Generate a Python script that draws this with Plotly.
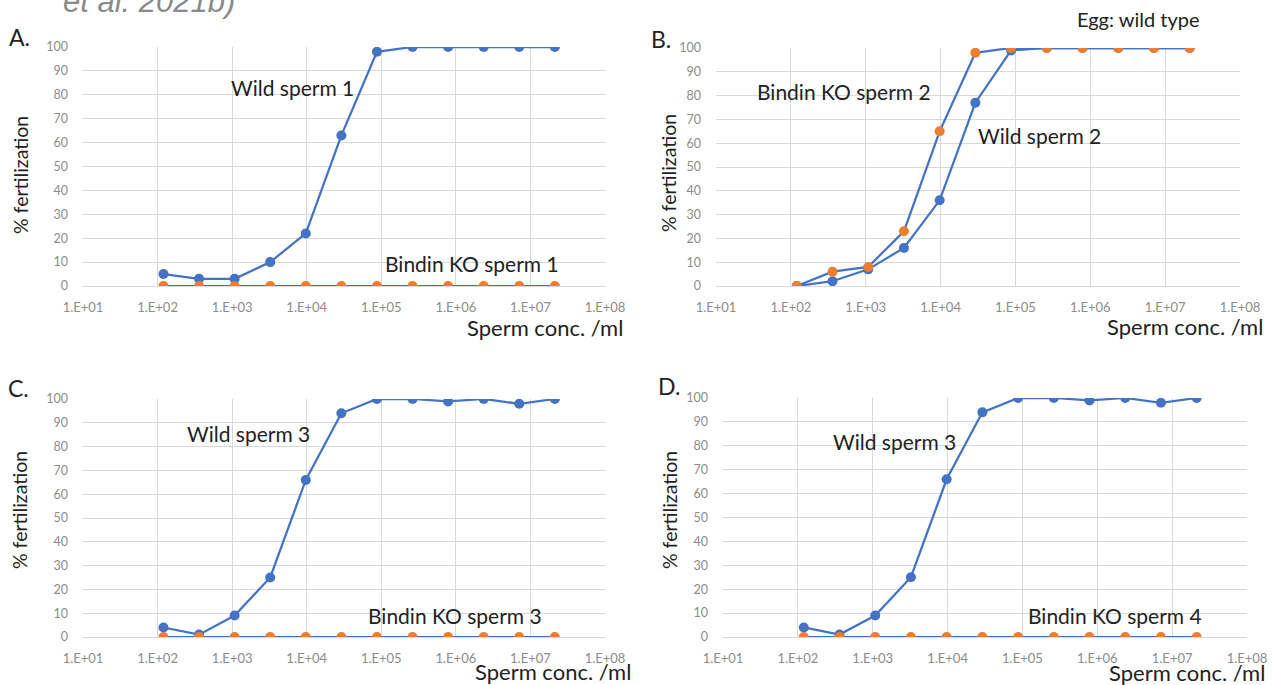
import plotly.graph_objects as go

# ---------------- data ----------------
conc = [1.2e2, 3.6e2, 1.08e3, 3.24e3, 9.72e3, 2.916e4, 8.748e4,
        2.6244e5, 7.8732e5, 2.36196e6, 7.08588e6, 2.125764e7]

wild_1 = [5, 3, 3, 10, 22, 63, 98, 100, 100, 100, 100, 100]
ko_1 = [0, 0, 0, 0, 0, 0, 0, 0, 0, 0, 0, 0]

wild_2 = [0, 2, 7, 16, 36, 77, 99, 100, 100, 100, 100, 100]
ko_2 = [0, 6, 8, 23, 65, 98, 100, 100, 100, 100, 100, 100]

wild_3 = [4, 1, 9, 25, 66, 94, 100, 100, 99, 100, 98, 100]
ko_3 = [0, 0, 0, 0, 0, 0, 0, 0, 0, 0, 0, 0]

wild_4 = [4, 1, 9, 25, 66, 94, 100, 100, 99, 100, 98, 100]
ko_4 = [0, 0, 0, 0, 0, 0, 0, 0, 0, 0, 0, 0]

x_tickvals = [1e1, 1e2, 1e3, 1e4, 1e5, 1e6, 1e7, 1e8]
x_ticktext = ["1.E+01", "1.E+02", "1.E+03", "1.E+04", "1.E+05", "1.E+06", "1.E+07", "1.E+08"]
y_tickvals = [0, 10, 20, 30, 40, 50, 60, 70, 80, 90, 100]

# ---------------- style ----------------
W, H = 1272, 685
BLUE = "#4472C4"
ORANGE = "#ED7D31"
GRID = "#d9d9d9"
TICK = "#8c8c8c"
FONT = "Lato"
DARK = "#222222"

def px(x):
    return x / W

def py(y):
    return 1 - y / H

panels = [
    # (xdomain px, ydomain px, wild, ko)
    ((83, 605), (47, 286), wild_1, ko_1),
    ((716, 1240), (48, 286), wild_2, ko_2),
    ((83, 605), (399, 637), wild_3, ko_3),
    ((723, 1247), (398, 637), wild_4, ko_4),
]

fig = go.Figure()
layout = {}
for i, (xd, yd, wild, ko) in enumerate(panels):
    n = "" if i == 0 else str(i + 1)
    xa, ya = "x" + n, "y" + n
    fig.add_trace(go.Scatter(x=conc, y=wild, mode="lines+markers", xaxis=xa, yaxis=ya,
                             line=dict(color=BLUE, width=2.25),
                             marker=dict(color=BLUE, size=10), showlegend=False))
    fig.add_trace(go.Scatter(x=conc, y=ko, mode="lines+markers", xaxis=xa, yaxis=ya,
                             line=dict(color=BLUE, width=2.25),
                             marker=dict(color=ORANGE, size=10), showlegend=False))
    layout["xaxis" + n] = dict(
        domain=[px(xd[0]), px(xd[1])], anchor=ya, type="log", range=[1, 8],
        tickvals=x_tickvals, ticktext=x_ticktext, showgrid=True, gridcolor=GRID,
        gridwidth=1, zeroline=False, showline=True, linecolor=GRID, ticks="",
        automargin=False, ticklabelstandoff=9,
        tickfont=dict(family=FONT, size=13, color=TICK))
    layout["yaxis" + n] = dict(
        domain=[py(yd[1]), py(yd[0])], anchor=xa, range=[0, 100],
        tickvals=y_tickvals, showgrid=True, gridcolor=GRID, gridwidth=1,
        zeroline=False, showline=False, ticks="", ticklabelstandoff=14,
        automargin=False, tickfont=dict(family=FONT, size=12.5, color=TICK))

fig.update_layout(**layout)

annots = [
    # text, x px, y px, size, xanchor
    ("A.", 7, 37, 23, "left"),
    ("B.", 649, 39, 23, "left"),
    ("C.", 6, 388, 23, "left"),
    ("D.", 656, 386, 23, "left"),
    ("Wild sperm 1", 292, 87, 21, "center"),
    ("Bindin KO sperm 1", 472, 263, 21, "center"),
    ("Bindin KO sperm 2", 844, 91, 21, "center"),
    ("Wild sperm 2", 1039, 135, 21, "center"),
    ("Egg: wild type", 1138, 19, 20, "center"),
    ("Wild sperm 3", 248, 433, 21, "center"),
    ("Bindin KO sperm 3", 455, 615, 21, "center"),
    ("Wild sperm 3", 894, 441, 21, "center"),
    ("Bindin KO sperm 4", 1115, 615, 21, "center"),
    ("Sperm conc. /ml", 625, 327, 22, "right"),
    ("Sperm conc. /ml", 1265, 326, 22, "right"),
    ("Sperm conc. /ml", 633, 671, 22, "right"),
    ("Sperm conc. /ml", 1267, 672, 22, "right"),
]
for t, x, y, s, xa in annots:
    fig.add_annotation(text=t, x=px(x), y=py(y), xref="paper", yref="paper",
                       xanchor=xa, yanchor="middle", showarrow=False,
                       font=dict(family=FONT, size=s, color=DARK))

for x, y in [(20, 175), (669, 173), (19, 510), (669, 510)]:
    fig.add_annotation(text="% fertilization", x=px(x), y=py(y), xref="paper", yref="paper",
                       xanchor="center", yanchor="middle", showarrow=False, textangle=-90,
                       font=dict(family=FONT, size=19.5, color=DARK))

# cut-off caption at the very top (only its lower part is visible in the reference)
fig.add_annotation(text="<i>et al. 2021b)</i>", x=px(61), y=py(21), xref="paper", yref="paper",
                   xanchor="left", yanchor="bottom", showarrow=False,
                   font=dict(family="Liberation Sans", size=31, color="#8a8a8a"))

fig.update_layout(width=W, height=H, margin=dict(l=0, r=0, t=0, b=0, autoexpand=False),
                  paper_bgcolor="white", plot_bgcolor="white")

fig.write_html("out.html")
